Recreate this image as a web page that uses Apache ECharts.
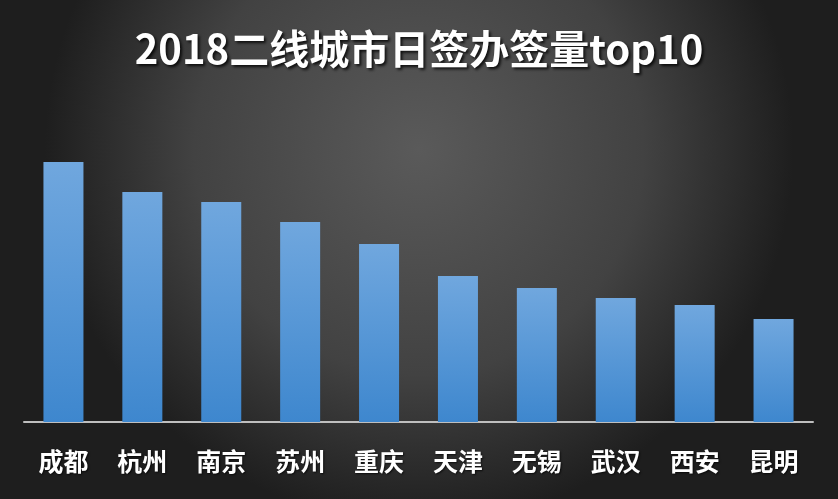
<!DOCTYPE html>
<html><head><meta charset="utf-8">
<script src="https://cdn.jsdelivr.net/npm/echarts@6/dist/echarts.min.js"></script>
<style>html,body{margin:0;padding:0;}#c{width:838px;height:499px;}</style>
</head><body><div id="c"></div>
<script>
const cities = ['成都','杭州','南京','苏州','重庆','天津','无锡','武汉','西安','昆明'];
const values = [260, 230, 220, 200, 178, 146, 134, 124, 117, 103];
const titleText = '2018二线城市日签办签量top10';

const chart = echarts.init(document.getElementById('c'));
chart.setOption({
  backgroundColor: {
    type: 'radial', x: 0.5, y: 0.3, r: 0.75,
    colorStops: [
      {offset: 0, color: '#5a5a5a'},
      {offset: 0.6, color: '#424242'},
      {offset: 1, color: '#1e1e1e'}
    ]
  },
  title: {
    text: titleText, left: 'center', top: 24,
    textStyle: {
      color: '#ffffff', fontSize: 40, fontWeight: 'bold',
      fontFamily: 'Noto Sans CJK SC',
      textShadowColor: 'rgba(0,0,0,0.8)', textShadowBlur: 3, textShadowOffsetX: 2, textShadowOffsetY: 2
    }
  },
  grid: {left: 24, right: 25, top: 142, bottom: 77},
  xAxis: {
    type: 'category', data: cities,
    axisLine: {lineStyle: {color: '#bfbfbf', width: 2}},
    axisTick: {show: false},
    axisLabel: {
      color: '#ffffff', fontSize: 25, fontWeight: 'bold', margin: 27,
      fontFamily: 'Noto Sans CJK SC',
      textShadowColor: 'rgba(0,0,0,0.7)', textShadowBlur: 2, textShadowOffsetX: 1, textShadowOffsetY: 1
    }
  },
  yAxis: {type: 'value', min: 0, max: 280, show: false, splitLine: {show: false}},
  series: [{
    type: 'bar', data: values, barWidth: 40,
    itemStyle: {
      color: {
        type: 'linear', x: 0, y: 0, x2: 0, y2: 1,
        colorStops: [{offset: 0, color: '#70a7de'}, {offset: 1, color: '#3e87ce'}]
      },
      shadowColor: 'rgba(0,0,0,0.6)', shadowBlur: 8, shadowOffsetX: 2, shadowOffsetY: -1
    }
  }]
});
</script></body></html>
